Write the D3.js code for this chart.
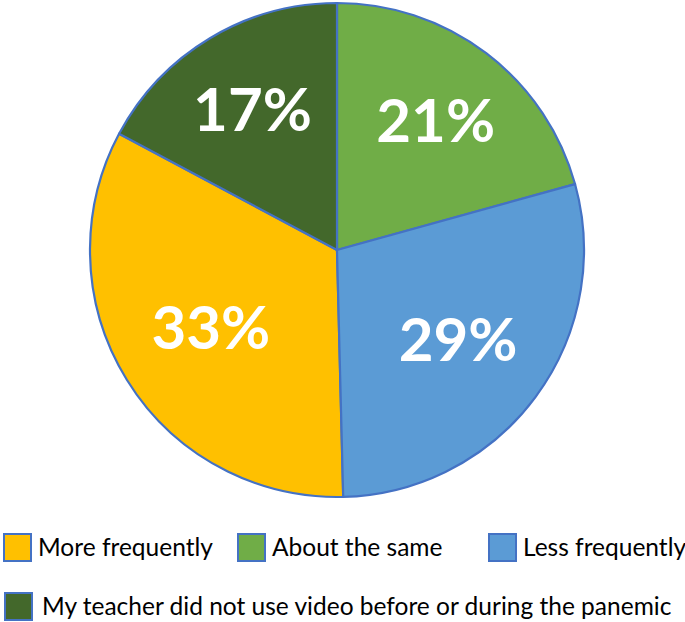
<!DOCTYPE html>
<html>
<head>
<meta charset="utf-8">
<script src="https://cdn.jsdelivr.net/npm/d3@7"></script>
<style>
  html, body { margin: 0; padding: 0; background: #fff; }
  svg { display: block; }
</style>
</head>
<body>
<svg id="chart" width="685" height="622"></svg>
<script>
// legend order
const categories = [
  'More frequently',
  'About the same',
  'Less frequently',
  'My teacher did not use video before or during the panemic'
]
const values = [33.2, 20.7, 28.9, 17.2]
// slice order round the pie, clockwise from 12 o'clock
const pieOrder = [
  'About the same',
  'Less frequently',
  'More frequently',
  'My teacher did not use video before or during the panemic'
]

const colors = d3.scaleOrdinal()
  .domain(categories)
  .range(['#FFC000', '#70AD47', '#5B9BD5', '#43682B'])

const edge = '#4472C4'
const cx = 337, cy = 250, radius = 247

const data = categories.map((c, i) => ({ name: c, value: values[i] }))

const svg = d3.select('#chart')
const g = svg.append('g').attr('transform', `translate(${cx},${cy})`)

const pie = d3.pie()
  .value(d => d.value)
  .sort((a, b) => pieOrder.indexOf(a.name) - pieOrder.indexOf(b.name))

const arc = d3.arc().innerRadius(0).outerRadius(radius)
const arcs = pie(data)

g.selectAll('path.slice')
  .data(arcs)
  .enter()
  .append('path')
  .attr('class', 'slice')
  .attr('d', arc)
  .attr('fill', d => colors(d.data.name))
  .attr('stroke', edge)
  .attr('stroke-width', 2.2)
  .attr('stroke-linejoin', 'round')

// labels sit a bit further out than the centroid, like the original
const labelR = {
  'About the same': 0.66,
  'Less frequently': 0.61,
  'More frequently': 0.6,
  'My teacher did not use video before or during the panemic': 0.665
}
const fmt = v => d3.format('.0f')(v) + '%'

g.selectAll('text.pct')
  .data(arcs)
  .enter()
  .append('text')
  .attr('class', 'pct')
  .attr('transform', d => {
    const r = radius * labelR[d.data.name]
    const a = (d.startAngle + d.endAngle) / 2
    return `translate(${r * Math.sin(a)},${-r * Math.cos(a)})`
  })
  .attr('text-anchor', 'middle')
  .attr('dy', '0.36em')
  .attr('font-family', 'Lato, "Open Sans", sans-serif')
  .attr('font-weight', 'bold')
  .attr('font-size', 60)
  .attr('fill', '#fff')
  .text(d => fmt(d.data.value))

/* --------- LEGEND ---------*/
const legendPos = [
  { x: 3, y: 533 },
  { x: 237, y: 533 },
  { x: 488, y: 533 },
  { x: 4, y: 592 }
]

const legend = svg.selectAll('g.legend')
  .data(data)
  .enter()
  .append('g')
  .attr('class', 'legend')
  .attr('transform', (d, i) => `translate(${legendPos[i].x},${legendPos[i].y})`)

legend.append('rect')
  .attr('x', 1)
  .attr('y', 1)
  .attr('width', 27)
  .attr('height', 27)
  .attr('fill', d => colors(d.name))
  .attr('stroke', edge)
  .attr('stroke-width', 2)

legend.append('text')
  .attr('x', (d, i) => i === 3 ? 38 : 35)
  .attr('y', 22.5)
  .attr('font-family', 'Lato, "Open Sans", sans-serif')
  .attr('font-size', 24.5)
  .attr('fill', '#000')
  .text(d => d.name)
</script>
</body>
</html>
